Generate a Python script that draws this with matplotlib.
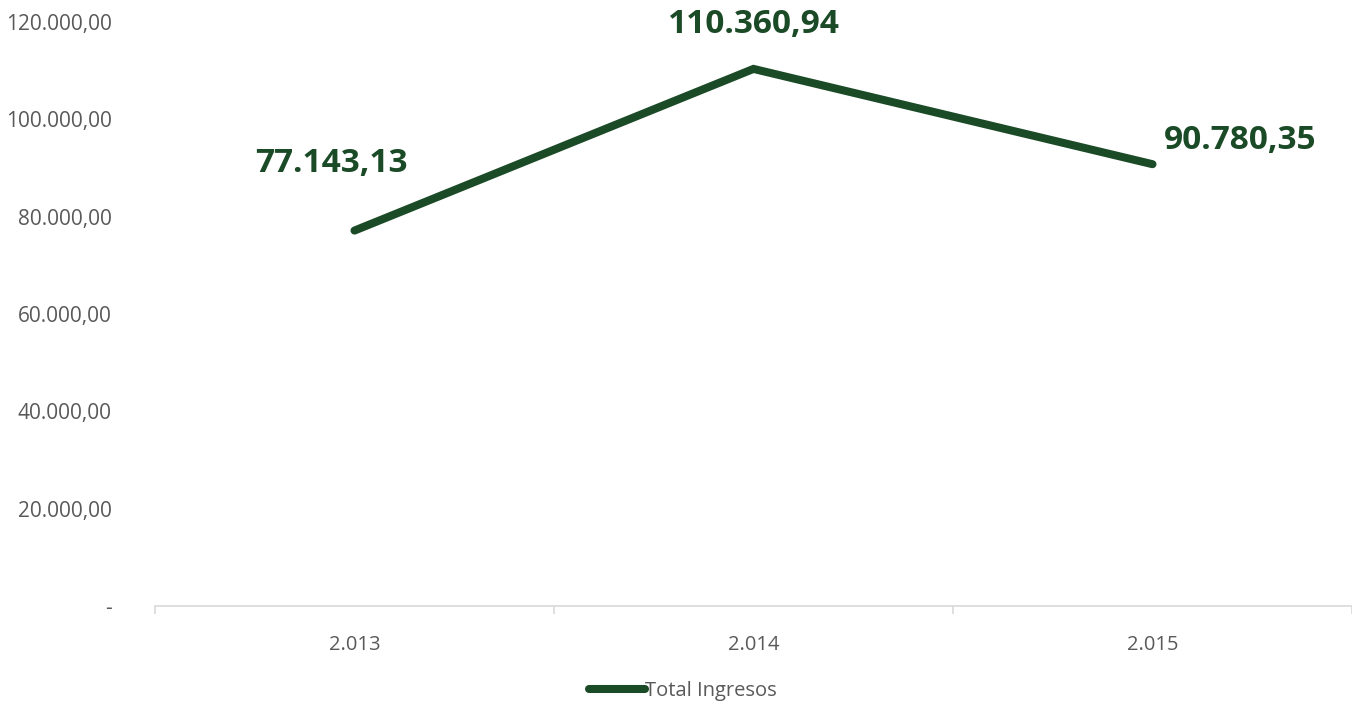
import matplotlib.pyplot as plt
from matplotlib.ticker import FixedLocator, FuncFormatter

years = ["2.013", "2.014", "2.015"]
ingresos = [77143.13, 110360.94, 90780.35]
value_labels = ["77.143,13", "110.360,94", "90.780,35"]
series_name = "Total Ingresos"
yticks = [0, 20000, 40000, 60000, 80000, 100000, 120000]

plt.rcParams['font.family'] = ['Open Sans', 'DejaVu Sans']
green = "#1B4A27"
gray = "#595959"

fig = plt.figure(figsize=(13.52, 7.07), dpi=100)
ax = fig.add_axes([155/1352, 1-606/707, 1-155/1352, (606-22)/707])

x = list(range(len(years)))
line, = ax.plot(x, ingresos, color=green, lw=5.8, solid_capstyle='round',
                solid_joinstyle='miter', label=series_name)

offsets = [(-17, 48), (0, 32), (63, 17)]
for xi, yi, lab, off in zip(x, ingresos, value_labels, offsets):
    ax.annotate(lab, (xi, yi), xytext=off, textcoords='offset points',
                ha='center', va='center', fontsize=24, fontweight='bold',
                color=green)

ax.set_xlim(-0.5, 2.5)
ax.set_ylim(0, 120000)

def fmt(v, pos):
    if v == 0:
        return "-"
    s = f"{v:,.2f}"
    return s.replace(",", "X").replace(".", ",").replace("X", ".")

ax.yaxis.set_major_locator(FixedLocator(yticks))
ax.yaxis.set_major_formatter(FuncFormatter(fmt))
ax.tick_params(axis='y', length=0, pad=31, labelsize=15, labelcolor=gray)

ax.set_xticks(x)
ax.set_xticklabels(years)
ax.tick_params(axis='x', which='major', length=0, pad=21, labelsize=14.5, labelcolor=gray)
ax.xaxis.set_minor_locator(FixedLocator([-0.5, 0.5, 1.5, 2.5]))
ax.tick_params(axis='x', which='minor', length=6, color="#D9D9D9", width=1.2)

for s in ['top', 'right', 'left']:
    ax.spines[s].set_visible(False)
ax.spines['bottom'].set_color("#D9D9D9")
ax.spines['bottom'].set_linewidth(1.2)

fig.legend(handles=[line], loc='center', bbox_to_anchor=(683/1352, 1-691/707),
           frameon=False, fontsize=14.5, labelcolor=gray, handlelength=2.8,
           handletextpad=0.0)

fig.savefig("out.png", dpi=100)
